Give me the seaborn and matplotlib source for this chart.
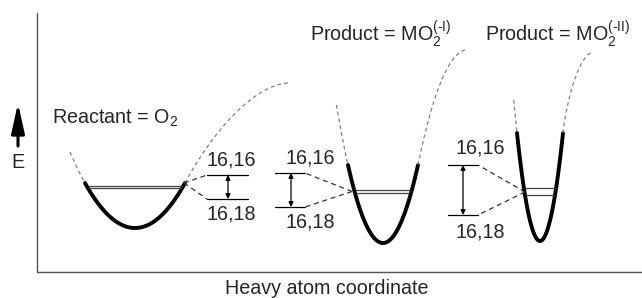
import numpy as np
import pandas as pd
import matplotlib
matplotlib.use("Agg")
import matplotlib.pyplot as plt
import seaborn as sns

# Puits de potentiel (coordonnées en pixels de la figure d'origine)
well_labels = ["Reactant = O$_2$", "Product = MO$_2^{(\\text{-I})}$",
               "Product = MO$_2^{(\\text{-II})}$"]
well_center = [135, 383, 540]
well_half = [50, 35, 23]
well_rim = [183, 165, 133]
well_bottom = [228, 243, 241]
left_dash_top = [152, 105, 100]
# points de controle de la branche droite (Bezier), apres le bord du puits
right_ctrl1 = [(214, 129), (429, 111), (566, 105)]
right_ctrl2 = [(255, 85), (445, 55), (578, 55)]
right_end = [(288, 83), (465, 50), (593, 52)]

# niveaux 16,16 et 16,18 dans chaque puits
level_1616 = [185.5, 190.0, 188.0]
level_1618 = [187.8, 193.3, 194.5]

# boites d'etiquettes
box_x0 = [207, 275, 448]
box_x1 = [248, 305, 478]
box_top = [175, 173, 165]
box_bot = [199, 207, 215]
arrow_x = [228, 291, 463]
join_pt = [(184, 183), (352, 191.5), (525, 192)]
txt_x = [231, 310, 480]
txt_1616_y = [160, 158, 148]
txt_1618_y = [214, 222, 232]
title_pos = [(52, 118), (310, 34), (485, 34)]

sns.set_style("white")
plt.rcParams["font.family"] = ["Liberation Sans", "DejaVu Sans"]
plt.rcParams["mathtext.fontset"] = "custom"
plt.rcParams["mathtext.rm"] = "Liberation Sans"
plt.rcParams["mathtext.it"] = "Liberation Sans:italic"

W, H = 642, 298
fig = plt.figure(figsize=(W / 100, H / 100), dpi=100)
ax = fig.add_axes([0, 0, 1, 1])
ax.set_xlim(0, W)
ax.set_ylim(H, 0)
ax.axis("off")

FS = 14.2
GREY = "#808080"

# axes du schema
ax.plot([37, 37, 642], [13, 272, 272], color="#555555", lw=1.0)
ax.annotate("", xy=(18, 103), xytext=(18, 146),
            arrowprops=dict(arrowstyle="-|>,head_length=1.0,head_width=0.22",
                            color="black", lw=2.2, mutation_scale=18,
                            shrinkA=0, shrinkB=0))
ax.text(18, 162, "E", ha="center", va="center", fontsize=FS)
ax.text(327, 288, "Heavy atom coordinate", ha="center", va="center", fontsize=FS)


def bezier(p0, p1, p2, p3, n=60):
    t = np.linspace(0, 1, n)[:, None]
    pts = ((1 - t) ** 3 * np.array(p0) + 3 * (1 - t) ** 2 * t * np.array(p1)
           + 3 * (1 - t) * t ** 2 * np.array(p2) + t ** 3 * np.array(p3))
    return pts[:, 0], pts[:, 1]


for i in range(3):
    c, hw, rim, bot = well_center[i], well_half[i], well_rim[i], well_bottom[i]
    a = (bot - rim) / hw ** 2

    # partie pleine du puits
    xs = np.linspace(c - hw, c + hw, 80)
    df = pd.DataFrame({"x": xs, "y": bot - a * (xs - c) ** 2})
    sns.lineplot(data=df, x="x", y="y", ax=ax, color="black", lw=2.8,
                 sort=False, estimator=None)

    # prolongement gauche en tirets
    dl = np.sqrt((bot - left_dash_top[i]) / a)
    xl = np.linspace(c - dl, c - hw, 30)
    ax.plot(xl, bot - a * (xl - c) ** 2, color=GREY, lw=0.9, ls=(0, (3, 2.5)))

    # prolongement droit en tirets
    bx, by = bezier((c + hw, rim), right_ctrl1[i], right_ctrl2[i], right_end[i])
    ax.plot(bx, by, color=GREY, lw=0.9, ls=(0, (3, 2.5)))

    # niveaux vibrationnels
    for lv in (level_1616[i], level_1618[i]):
        d = np.sqrt((bot - lv) / a)
        ax.plot([c - d + 1.5, c + d - 1.5], [lv, lv], color="#444444", lw=0.9)

    # boite d'etiquettes
    ax.plot([box_x0[i], box_x1[i]], [box_top[i], box_top[i]], color="black", lw=0.9)
    ax.plot([box_x0[i], box_x1[i]], [box_bot[i], box_bot[i]], color="black", lw=0.9)
    ax.annotate("", xy=(arrow_x[i], box_top[i]), xytext=(arrow_x[i], box_bot[i]),
                arrowprops=dict(arrowstyle="<|-|>", color="black", lw=0.9,
                                mutation_scale=7, shrinkA=0, shrinkB=0))
    jx, jy = join_pt[i]
    ex = box_x0[i] if i == 0 else box_x1[i]
    for by_ in (box_top[i], box_bot[i]):
        ax.plot([jx, ex], [jy, by_], color="#333333", lw=0.9, ls=(0, (4, 3)))

    ax.text(txt_x[i], txt_1616_y[i], "16,16", ha="center", va="center", fontsize=FS)
    ax.text(txt_x[i], txt_1618_y[i], "16,18", ha="center", va="center", fontsize=FS)
    ax.text(title_pos[i][0], title_pos[i][1], well_labels[i], ha="left",
            va="center", fontsize=FS)

fig.savefig("out.png", dpi=100)
